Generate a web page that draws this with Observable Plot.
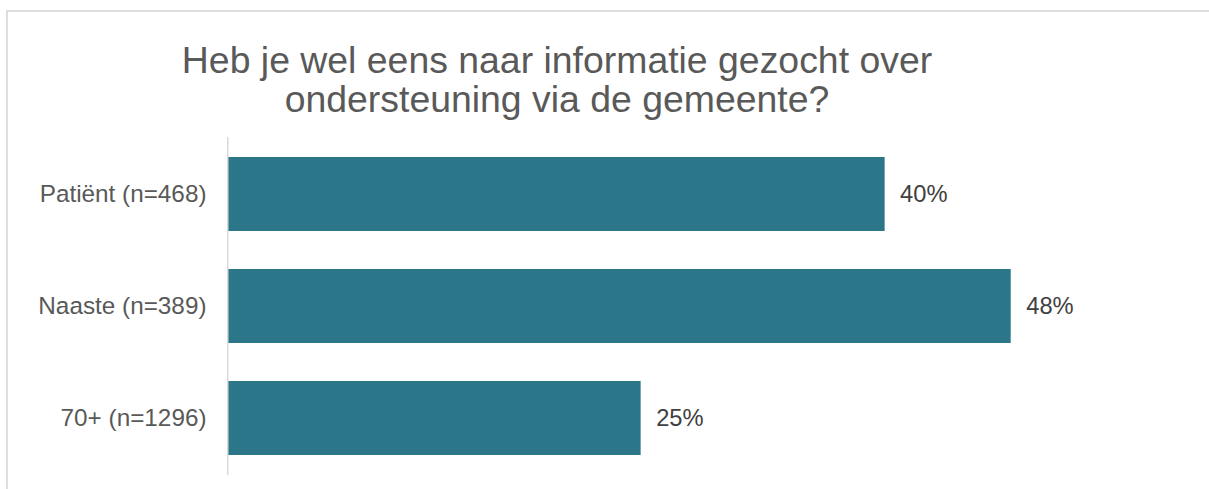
<!DOCTYPE html>
<html>
<head>
<meta charset="utf-8">
<script src="https://cdn.jsdelivr.net/npm/d3@7"></script>
<script src="https://cdn.jsdelivr.net/npm/@observablehq/plot@0.6"></script>
<style>
  html, body { margin: 0; padding: 0; background: #fff; }
  body { position: relative; width: 1209px; height: 489px; overflow: hidden; font-family: "Liberation Sans", Arial, sans-serif; }
  #frame { position: absolute; left: 6px; top: 10px; width: 1400px; height: 700px; border: 2px solid #dedede; box-sizing: border-box; }
  #title { position: absolute; left: 0; top: 41px; width: 1114px; text-align: center; font-size: 37.4px; line-height: 39px; color: #595959; }
  #chart { position: absolute; left: 0; top: 125px; }
</style>
</head>
<body>
<div id="frame"></div>
<div id="title">Heb je wel eens naar informatie gezocht over<br>ondersteuning via de gemeente?</div>
<div id="chart"></div>
<script>
const categories = ["Patiënt (n=468)", "Naaste (n=389)", "70+ (n=1296)"];
const values = [40.1, 47.8, 25.2];
const valueLabels = ["40%", "48%", "25%"];

const data = categories.map((c, i) => ({category: c, value: values[i], label: valueLabels[i]}));

const plot = Plot.plot({
  width: 1209,
  height: 364,
  marginTop: 12,
  marginBottom: 14,
  marginLeft: 228,
  marginRight: 80.4,
  style: {fontFamily: '"Liberation Sans", Arial, sans-serif', background: "transparent"},
  x: {domain: [0, 55], axis: null},
  y: {domain: categories, paddingInner: 0.342, paddingOuter: 0.171, label: null},
  marks: [
    Plot.axisY({tickSize: 0, tickPadding: 22, fontSize: 24.3, fill: "#595959", label: null}),
    Plot.barX(data, {x: "value", y: "category", fill: "#2b7689"}),
    Plot.ruleX([0], {stroke: "#d9d9d9", strokeWidth: 1.5, dx: -0.75}),
    Plot.text(data, {x: "value", y: "category", text: "label", dx: 15, textAnchor: "start", fontSize: 23.7, fill: "#404040"})
  ]
});
document.getElementById("chart").appendChild(plot);
</script>
</body>
</html>
